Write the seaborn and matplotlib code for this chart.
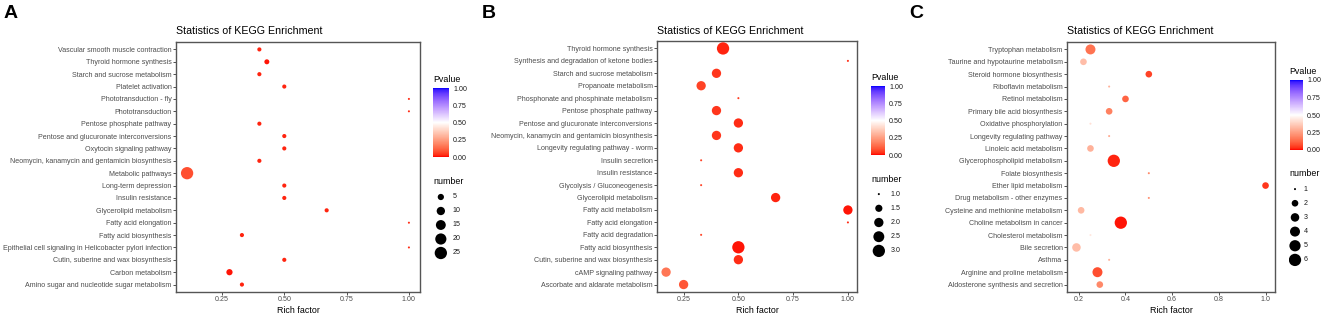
import numpy as np
import pandas as pd
import matplotlib
matplotlib.use("Agg")
import matplotlib.pyplot as plt
import seaborn as sns
from matplotlib.colors import ListedColormap, Normalize
from matplotlib.cm import ScalarMappable

# ---------------- data (top-to-bottom as displayed) ----------------
terms_a = ["Vascular smooth muscle contraction", "Thyroid hormone synthesis",
           "Starch and sucrose metabolism", "Platelet activation",
           "Phototransduction - fly", "Phototransduction", "Pentose phosphate pathway",
           "Pentose and glucuronate interconversions", "Oxytocin signaling pathway",
           "Neomycin, kanamycin and gentamicin biosynthesis", "Metabolic pathways",
           "Long-term depression", "Insulin resistance", "Glycerolipid metabolism",
           "Fatty acid elongation", "Fatty acid biosynthesis",
           "Epithelial cell signaling in Helicobacter pylori infection",
           "Cutin, suberine and wax biosynthesis", "Carbon metabolism",
           "Amino sugar and nucleotide sugar metabolism"]
rich_a = [0.40, 0.43, 0.40, 0.50, 1.00, 1.00, 0.40, 0.50, 0.50, 0.40, 0.11,
          0.50, 0.50, 0.67, 1.00, 0.33, 1.00, 0.50, 0.28, 0.33]
num_a = [2, 3, 2, 2, 1, 1, 2, 2, 2, 2, 25, 2, 2, 2, 1, 2, 1, 2, 5, 2]
pval_a = [0.02, 0.01, 0.02, 0.02, 0.03, 0.03, 0.02, 0.02, 0.02, 0.02, 0.08,
          0.02, 0.02, 0.02, 0.03, 0.02, 0.03, 0.02, 0.01, 0.02]

terms_b = ["Thyroid hormone synthesis", "Synthesis and degradation of ketone bodies",
           "Starch and sucrose metabolism", "Propanoate metabolism",
           "Phosphonate and phosphinate metabolism", "Pentose phosphate pathway",
           "Pentose and glucuronate interconversions",
           "Neomycin, kanamycin and gentamicin biosynthesis",
           "Longevity regulating pathway - worm", "Insulin secretion", "Insulin resistance",
           "Glycolysis / Gluconeogenesis", "Glycerolipid metabolism", "Fatty acid metabolism",
           "Fatty acid elongation", "Fatty acid degradation", "Fatty acid biosynthesis",
           "Cutin, suberine and wax biosynthesis", "cAMP signaling pathway",
           "Ascorbate and aldarate metabolism"]
rich_b = [0.43, 1.00, 0.40, 0.33, 0.50, 0.40, 0.50, 0.40, 0.50, 0.33, 0.50,
          0.33, 0.67, 1.00, 1.00, 0.33, 0.50, 0.50, 0.17, 0.25]
num_b = [3, 1, 2, 2, 1, 2, 2, 2, 2, 1, 2, 1, 2, 2, 1, 1, 3, 2, 2, 2]
pval_b = [0.02, 0.03, 0.04, 0.06, 0.05, 0.04, 0.03, 0.04, 0.03, 0.06, 0.03,
          0.06, 0.02, 0.01, 0.03, 0.06, 0.01, 0.03, 0.16, 0.09]

terms_c = ["Tryptophan metabolism", "Taurine and hypotaurine metabolism",
           "Steroid hormone biosynthesis", "Riboflavin metabolism", "Retinol metabolism",
           "Primary bile acid biosynthesis", "Oxidative phosphorylation",
           "Longevity regulating pathway", "Linoleic acid metabolism",
           "Glycerophospholipid metabolism", "Folate biosynthesis", "Ether lipid metabolism",
           "Drug metabolism - other enzymes", "Cysteine and methionine metabolism",
           "Choline metabolism in cancer", "Cholesterol metabolism", "Bile secretion",
           "Asthma", "Arginine and proline metabolism", "Aldosterone synthesis and secretion"]
rich_c = [0.25, 0.22, 0.50, 0.33, 0.40, 0.33, 0.25, 0.33, 0.25, 0.35, 0.50,
          1.00, 0.50, 0.21, 0.38, 0.25, 0.19, 0.33, 0.28, 0.29]
num_c = [4, 2, 2, 1, 2, 2, 1, 1, 2, 6, 1, 2, 1, 2, 6, 1, 3, 1, 4, 2]
pval_c = [0.15, 0.33, 0.06, 0.30, 0.12, 0.18, 0.42, 0.28, 0.30, 0.02, 0.20,
          0.04, 0.22, 0.32, 0.01, 0.44, 0.33, 0.30, 0.08, 0.20]

legend_a = [5, 10, 15, 20, 25]
legend_b = [1.0, 1.5, 2.0, 2.5, 3.0]
legend_c = [1, 2, 3, 4, 5, 6]
labels_b = ["1.0", "1.5", "2.0", "2.5", "3.0"]

# ---------------- style ----------------
sns.set_theme(style="white")
plt.rcParams["font.family"] = ["Liberation Sans", "DejaVu Sans"]

W, H = 1325, 317
fig = plt.figure(figsize=(W / 100, H / 100), dpi=100)


def fbox(x0, y0, x1, y1):
    return [x0 / W, 1 - y1 / H, (x1 - x0) / W, (y1 - y0) / H]


# Lab-space red-white-blue gradient (like ggplot gradient2)
_M = np.array([[0.4124564, 0.3575761, 0.1804375],
               [0.2126729, 0.7151522, 0.0721750],
               [0.0193339, 0.1191920, 0.9503041]])
_WP = np.array([0.95047, 1.0, 1.08883])


def srgb2lab(c):
    c = np.asarray(c, float)
    lin = np.where(c <= 0.04045, c / 12.92, ((c + 0.055) / 1.055) ** 2.4)
    xyz = lin @ _M.T / _WP
    f = np.where(xyz > 0.008856, np.cbrt(xyz), 7.787 * xyz + 16 / 116)
    return np.stack([116 * f[..., 1] - 16, 500 * (f[..., 0] - f[..., 1]),
                     200 * (f[..., 1] - f[..., 2])], -1)


def lab2srgb(lab):
    L, a, b = lab[..., 0], lab[..., 1], lab[..., 2]
    fy = (L + 16) / 116
    f = np.stack([fy + a / 500, fy, fy - b / 200], -1)
    xyz = np.where(f ** 3 > 0.008856, f ** 3, (f - 16 / 116) / 7.787) * _WP
    lin = np.clip(xyz @ np.linalg.inv(_M).T, 0, 1)
    c = np.where(lin <= 0.0031308, 12.92 * lin, 1.055 * lin ** (1 / 2.4) - 0.055)
    return np.clip(c, 0, 1)


lr, lw_, lb = srgb2lab([1, 0, 0]), srgb2lab([1, 1, 1]), srgb2lab([0, 0, 1])
t = np.linspace(0, 1, 256)[:, None]
lab = np.where(t < 0.5, lr + (lw_ - lr) * (t / 0.5), lw_ + (lb - lw_) * ((t - 0.5) / 0.5))
cmap = ListedColormap(lab2srgb(lab))


def area(n, lo, hi):
    d_mm = 1 + 5 * np.sqrt((n - lo) / (hi - lo))
    d_pt = d_mm * 2.05 * 0.72
    return d_pt ** 2


TXT = "#4D4D4D"


def panel(box, letter, letter_x, terms, rich, num, pval, xticks, xlabels,
          cbox, ptitle_xy, ntitle_xy, nbox, legvals, leglabels):
    ax = fig.add_axes(fbox(*box))
    df = pd.DataFrame({"term": terms[::-1], "rich": rich[::-1],
                       "number": num[::-1], "pvalue": pval[::-1]})
    lo, hi = min(num), max(num)
    sizes = {n: area(n, lo, hi) for n in sorted(set(num))}
    sns.scatterplot(data=df, x="rich", y="term", size="number", sizes=sizes,
                    hue="pvalue", palette=cmap, hue_norm=(0, 1), linewidth=0,
                    legend=False, ax=ax, zorder=3)
    r0, r1 = min(rich), max(rich)
    pad = (r1 - r0) * 0.05
    ax.set_xlim(r0 - pad, r1 + pad)
    ax.set_ylim(-0.6, len(terms) - 0.4)
    ax.set_xticks(xticks)
    ax.set_xticklabels(xlabels)
    ax.set_xlabel("Rich factor", fontsize=6.4, color="black", labelpad=1.5)
    ax.set_ylabel("")
    ax.tick_params(axis="both", labelsize=5.1, labelcolor=TXT, length=2,
                   width=0.6, color="#333333", pad=1.2, left=True, bottom=True)
    for s in ax.spines.values():
        s.set_color("#555555")
        s.set_linewidth(1.0)
    ax.grid(False)
    # title and letter
    fig.text(box[0] / W, 1 - 31 / H, "Statistics of KEGG Enrichment",
             fontsize=7.7, va="center", ha="left", color="black")
    fig.text(letter_x / W, 1 - 14 / H, letter, fontsize=14, fontweight="bold",
             va="center", ha="left", color="black")
    # colorbar legend
    cax = fig.add_axes(fbox(*cbox))
    cb = fig.colorbar(ScalarMappable(norm=Normalize(0, 1), cmap=cmap), cax=cax,
                      ticks=[0, 0.25, 0.5, 0.75, 1.0])
    cb.outline.set_visible(False)
    cax.set_yticklabels(["0.00", "0.25", "0.50", "0.75", "1.00"])
    cax.tick_params(which="both", left=True, right=True, direction="in",
                    length=2.5, width=0.6, color="white", labelsize=5.1,
                    labelcolor="#1A1A1A", pad=3)
    fig.text(ptitle_xy[0] / W, 1 - ptitle_xy[1] / H, "Pvalue", fontsize=6.4,
             va="center", ha="left", color="black")
    fig.text(ntitle_xy[0] / W, 1 - ntitle_xy[1] / H, "number", fontsize=6.4,
             va="center", ha="left", color="black")
    # size legend
    lax = fig.add_axes(fbox(*nbox))
    k = len(legvals)
    lax.scatter(np.full(k, 0.0), np.arange(k), s=[area(v, lo, hi) for v in legvals],
                color="black", linewidths=0)
    for i, lab_ in enumerate(leglabels):
        lax.text(0.9, i, lab_, fontsize=5.1, va="center", ha="left", color="#1A1A1A")
    lax.set_xlim(-0.6, 3)
    lax.set_ylim(k - 0.5, -0.5)
    lax.axis("off")
    return ax


panel((176, 42, 420, 292), "A", 4, terms_a, rich_a, num_a, pval_a,
      [0.25, 0.5, 0.75, 1.0], ["0.25", "0.50", "0.75", "1.00"],
      (433, 88, 449, 157), (433, 79), (433, 181), (433, 190, 480, 260),
      legend_a, [str(v) for v in legend_a])

panel((657, 41, 857, 292), "B", 482, terms_b, rich_b, num_b, pval_b,
      [0.25, 0.5, 0.75, 1.0], ["0.25", "0.50", "0.75", "1.00"],
      (871, 86, 885, 155), (871, 77), (871, 179), (871, 187, 918, 258),
      legend_b, labels_b)

panel((1067, 42, 1275, 292), "C", 909, terms_c, rich_c, num_c, pval_c,
      [0.2, 0.4, 0.6, 0.8, 1.0], ["0.2", "0.4", "0.6", "0.8", "1.0"],
      (1290, 80, 1303, 150), (1289, 72), (1289, 173), (1289, 182, 1325, 267),
      legend_c, [str(v) for v in legend_c])

fig.savefig("out.png", dpi=100)
